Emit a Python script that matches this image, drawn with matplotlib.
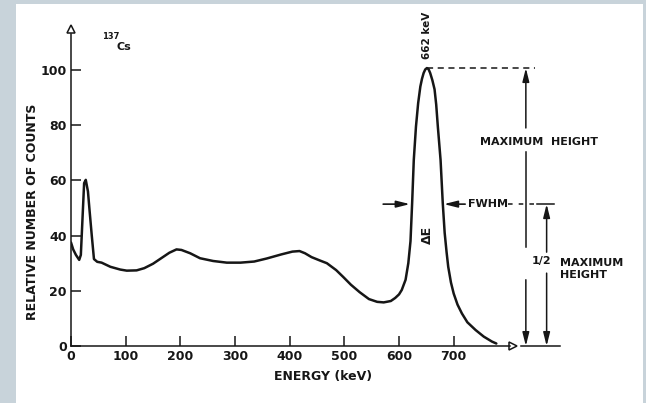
import matplotlib.pyplot as plt
from matplotlib.patches import Rectangle

# Cs-137 gamma spectrum
energy = [0, 4, 9, 15, 18, 21, 24, 27, 31, 34, 38, 42, 48, 56, 72, 90, 102, 120,
          134, 150, 165, 180, 193, 202, 218, 236, 260, 285, 310, 335, 358, 385,
          405, 418, 428, 440, 455, 468, 485, 498, 512, 528, 545, 560, 572, 585,
          593, 600, 605, 612, 617, 621, 624, 627, 631, 635, 639, 642, 645, 648,
          651, 654, 657, 661, 665, 668, 671, 676, 680, 683.5, 687, 690, 695, 700,
          707, 715, 725, 740, 755, 770, 778]
counts = [37.5, 35, 33, 31.2, 33, 46, 59, 60.2, 56, 49, 40, 31.5, 30.5, 30.2, 28.7,
          27.7, 27.3, 27.4, 28.2, 29.8, 31.8, 33.8, 35, 34.8, 33.6, 31.8, 30.8, 30.2,
          30.2, 30.6, 31.7, 33.2, 34.2, 34.4, 33.6, 32.2, 31, 30, 27.5, 25, 22.2,
          19.5, 17, 16, 15.8, 16.3, 17.4, 18.7, 20.3, 24, 30, 38, 51.8, 67.4, 79.5,
          88, 94, 96.8, 98.9, 100.2, 100.7, 100.3, 98.9, 96.3, 93, 87.5, 79.5, 67.4,
          51.8, 41, 34, 28.7, 23, 19, 15, 11.8, 8.6, 5.8, 3.4, 1.6, 0.9]

x_ticks = [100, 200, 300, 400, 500, 600, 700]
y_ticks = [0, 20, 40, 60, 80, 100]

peak_e = 651
peak_max = 100.7
half_max = 51.4
fwhm_left = 624
fwhm_right = 680

ink = "#161616"
fw = "bold"

fig = plt.figure(figsize=(6.46, 4.03), dpi=100, facecolor="#c8d3da")
fig.patches.append(Rectangle((16 / 646, 0), 627 / 646, 399 / 403,
                             transform=fig.transFigure, facecolor="white",
                             edgecolor="none", zorder=-10))

ax = fig.add_axes([71 / 646, 57 / 403, 546.7 / 646, 331.2 / 403])
ax.set_zorder(5)
ax.set_facecolor("none")
ax.set_xlim(0, 1000)
ax.set_ylim(0, 120)

# --- curve ---
ax.plot(energy, counts, color=ink, lw=1.8, solid_joinstyle="round",
        solid_capstyle="round", zorder=3)

# --- axes with hollow arrow heads ---
for side in ["top", "right"]:
    ax.spines[side].set_visible(False)
for side in ["left", "bottom"]:
    ax.spines[side].set_linewidth(1.1)
    ax.spines[side].set_color(ink)
ax.spines["left"].set_bounds(0, 113)
ax.spines["bottom"].set_bounds(0, 803)
ax.plot([0], [114.9], marker="^", ms=6, mfc="white", mec=ink, mew=1.1, clip_on=False)
ax.plot([807.6], [0], marker=">", ms=6, mfc="white", mec=ink, mew=1.1, clip_on=False)

ax.set_xticks([0] + x_ticks)
ax.set_yticks(y_ticks)
ax.tick_params(direction="in", length=7, width=1.1, colors=ink, labelsize=9, pad=3)
for lab in ax.get_xticklabels() + ax.get_yticklabels():
    lab.set_fontweight(fw)
    lab.set_color(ink)

ax.text(-0.0713, 0.4046, "RELATIVE NUMBER OF COUNTS", transform=ax.transAxes,
        rotation=90, ha="center", va="center", fontsize=9, fontweight=fw, color=ink)
ax.text(0.461, -0.0906, "ENERGY (keV)", transform=ax.transAxes,
        ha="center", va="center", fontsize=9, fontweight=fw, color=ink)

# --- annotations ---
ax.text(57, 110.5, "137", fontsize=6, fontweight=fw, color=ink, ha="left", va="bottom")
ax.text(83, 108.3, "Cs", fontsize=8, fontweight=fw, color=ink, ha="left", va="center")

ax.text(peak_e, 112.7, "662 keV", rotation=90, ha="center", va="center",
        fontsize=7.5, fontweight=fw, color=ink)
ax.text(peak_e + 1, 40.2, "ΔE", rotation=90, ha="center", va="center",
        fontsize=9, fontweight=fw, color=ink)

# maximum height
ax.plot([peak_e, 849], [peak_max, peak_max], color=ink, lw=1.1, ls=(0, (4, 3)), clip_on=False)
arrow = dict(arrowstyle="-|>,head_length=0.8,head_width=0.2", color=ink, lw=1.1,
             shrinkA=0, shrinkB=0)
ax.annotate("", xy=(832, peak_max), xytext=(832, 79), arrowprops=arrow, annotation_clip=False)
ax.plot([832, 832], [70.3, 36], color=ink, lw=1.1, clip_on=False)
ax.annotate("", xy=(832, 0), xytext=(832, 24), arrowprops=arrow, annotation_clip=False)
ax.text(856, 74, "MAXIMUM  HEIGHT", ha="center", va="center",
        fontsize=8, fontweight=fw, color=ink)

# FWHM
ax.annotate("", xy=(fwhm_left - 4, half_max), xytext=(571, half_max),
            arrowprops=dict(arrow, lw=1.2), annotation_clip=False)
ax.annotate("", xy=(fwhm_right + 2, half_max), xytext=(721, half_max),
            arrowprops=dict(arrow, lw=1.2), annotation_clip=False)
ax.text(763, half_max, "FWHM", ha="center", va="center",
        fontsize=8, fontweight=fw, color=ink)
ax.plot([800, 850], [half_max, half_max], color=ink, lw=1.1, ls=(0, (3, 4)), clip_on=False)
ax.plot([852, 884], [half_max, half_max], color=ink, lw=1.1, clip_on=False)

# 1/2 maximum height
ax.annotate("", xy=(870, half_max), xytext=(870, 34), arrowprops=arrow, annotation_clip=False)
ax.annotate("", xy=(870, 0), xytext=(870, 26.4), arrowprops=arrow, annotation_clip=False)
ax.plot([824, 894], [0, 0], color=ink, lw=1.1, clip_on=False)
ax.text(860, 30.8, "1/2", ha="center", va="center",
        fontsize=8, fontweight=fw, color=ink)
ax.text(894, 28, "MAXIMUM\nHEIGHT", ha="left", va="center", linespacing=1.25,
        fontsize=8, fontweight=fw, color=ink)

fig.savefig("out.png", dpi=100, facecolor=fig.get_facecolor())
